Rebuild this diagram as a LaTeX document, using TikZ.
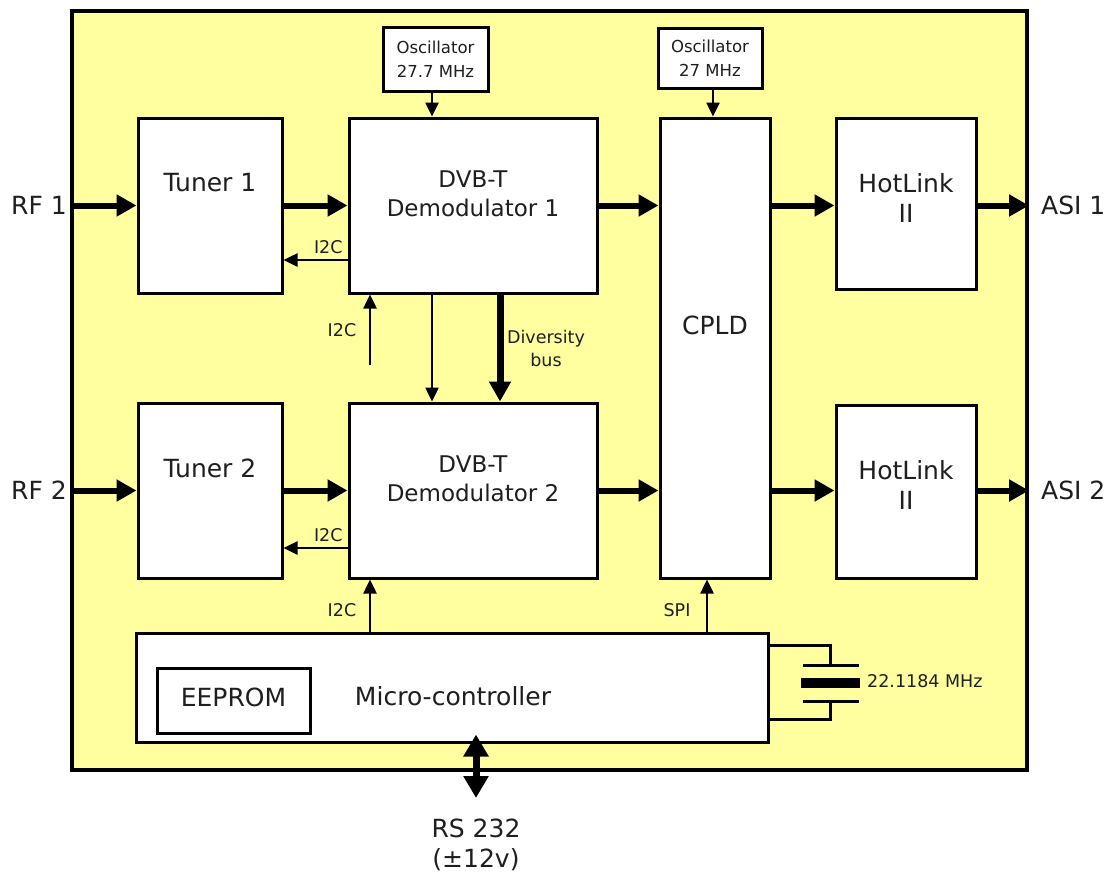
\documentclass[tikz,border=0pt]{standalone}
\usepackage{fontspec}
\setmainfont{DejaVu Sans}
\usetikzlibrary{arrows.meta}
\definecolor{bgyellow}{RGB}{255,255,160}
\definecolor{txt}{RGB}{30,30,30}
\begin{document}
\begin{tikzpicture}[x=1pt,y=-1pt,
  frame/.style={draw=black,line width=4pt,fill=bgyellow,inner sep=0pt},
  box/.style={draw=black,line width=3pt,fill=white,inner sep=0pt},
  big/.style={text=txt,font=\fontsize{25}{30}\selectfont,align=center,inner sep=0pt},
  demod/.style={text=txt,font=\fontsize{23}{29}\selectfont,align=center,inner sep=0pt},
  small/.style={text=txt,font=\fontsize{17.5}{23}\selectfont,align=center,inner sep=0pt},
  osc/.style={text=txt,font=\fontsize{16.5}{24}\selectfont,align=center,inner sep=0pt},
  thick arrow/.style={line width=6pt,-{Triangle[length=20pt,width=21pt]}},
  thin arrow/.style={line width=2.5pt,-{Triangle[length=14pt,width=13pt]}},
  wire/.style={line width=3pt}]
\useasboundingbox (0,0) rectangle (1117,884);
\fill[white] (0,0) rectangle (1117,884);
% outer frame
\node[frame,minimum width=955pt,minimum height=759pt] (frame) at (549.5,390.5) {};
% boxes
\node[box,minimum width=105pt,minimum height=64pt] (o1) at (435.5,59) {};
\node[osc] at (o1.center) {Oscillator\\27.7 MHz};
\node[box,minimum width=104pt,minimum height=60pt] (o2) at (710,58) {};
\node[osc] at (o2.center) {Oscillator\\27 MHz};
\node[box,minimum width=144pt,minimum height=175pt] (t1) at (210,205.5) {};
\node[big] at (210,183) {Tuner 1};
\node[box,minimum width=248pt,minimum height=175pt] (d1) at (473,205.5) {};
\node[demod] at (473,194) {DVB-T\\Demodulator 1};
\node[box,minimum width=110pt,minimum height=460pt] (cpld) at (715,348) {};
\node[big] at (715,325) {CPLD};
\node[box,minimum width=140pt,minimum height=171pt] (h1) at (906,203.5) {};
\node[big] at (906,198) {HotLink\\II};
\node[box,minimum width=144pt,minimum height=175pt] (t2) at (210,490.5) {};
\node[big] at (210,468) {Tuner 2};
\node[box,minimum width=248pt,minimum height=175pt] (d2) at (473,490.5) {};
\node[demod] at (473,479) {DVB-T\\Demodulator 2};
\node[box,minimum width=140pt,minimum height=173pt] (h2) at (906,491.5) {};
\node[big] at (906,485) {HotLink\\II};
\node[box,minimum width=632pt,minimum height=109pt] (m) at (452,687.5) {};
\node[big] at (453,696) {Micro-controller};
\node[box,minimum width=153pt,minimum height=65pt] (ee) at (233.5,700.5) {};
\node[big] at ([yshift=3pt]ee.center) {EEPROM};
% outside labels
\node[big,anchor=east] (rf1) at (67,205) {RF 1};
\node[big,anchor=east] (rf2) at (67,490) {RF 2};
\node[big,anchor=west] (asi1) at (1041,205) {ASI 1};
\node[big,anchor=west] (asi2) at (1041,490) {ASI 2};
\node[big] (rs) at (476,845) {RS 232\\(±12v)};
% thick data arrows, top row
\draw[thick arrow] (frame.west |- t1.east) -- (t1.east -| t1.west);
\draw[thick arrow] (t1.east) -- (d1.west);
\draw[thick arrow] (d1.east) -- (d1.east -| cpld.west);
\draw[thick arrow] (d1.east -| cpld.east) -- (d1.east -| h1.west);
\draw[thick arrow] (d1.east -| h1.east) -- (d1.east -| frame.east);
% thick data arrows, bottom row
\draw[thick arrow] (frame.west |- t2.east) -- (t2.west);
\draw[thick arrow] (t2.east) -- (d2.west);
\draw[thick arrow] (d2.east) -- (d2.east -| cpld.west);
\draw[thick arrow] (d2.east -| cpld.east) -- (d2.east -| h2.west);
\draw[thick arrow] (d2.east -| h2.east) -- (d2.east -| frame.east);
% oscillator arrows
\draw[thin arrow] ([xshift=-3.5pt]o1.south) -- ([xshift=-3.5pt]o1.south |- d1.north);
\draw[thin arrow] ([xshift=3pt]o2.south) -- ([xshift=3pt]o2.south |- cpld.north);
% I2C tuner arrows
\draw[thin arrow] ([yshift=-54.5pt]d1.west) -- ([yshift=-54.5pt]d1.west -| t1.east)
  node[small,pos=0.3,anchor=south,yshift=5pt] {I2C};
\draw[thin arrow] ([yshift=-57.5pt]d2.west) -- ([yshift=-57.5pt]d2.west -| t2.east)
  node[small,pos=0.3,anchor=south,yshift=5pt] {I2C};
% I2C from below to demod 1
\coordinate (i2a) at (370,365);
\draw[thin arrow] (i2a) -- (i2a |- d1.south);
\node[small] at (342,330) {I2C};
% demod1 to demod2
\draw[thin arrow] ([xshift=-41pt]d1.south) -- ([xshift=-41pt]d2.north);
\draw[line width=7pt,-{Triangle[length=20pt,width=21pt]}] ([xshift=27pt]d1.south) -- ([xshift=27pt]d2.north);
\node[small] at (546,348) {Diversity\\bus};
% micro to demod2 and CPLD
\draw[thin arrow] ([xshift=-103pt]d2.south |- m.north) -- ([xshift=-103pt]d2.south);
\node[small] at (342,610) {I2C};
\draw[thin arrow] ([xshift=-8pt]cpld.south |- m.north) -- ([xshift=-8pt]cpld.south);
\node[small] at (677,610) {SPI};
% RS232 double arrow
\coordinate (rsend) at (476,798);
\draw[line width=7pt,{Triangle[length=22pt,width=24pt]}-{Triangle[length=22pt,width=24pt]}]
  ([yshift=9pt]m.south -| rsend) -- (rsend);
% crystal
\draw[wire] ([yshift=42.5pt]m.east) -- (830,645) -- (830,665);
\draw[wire] (803,665) -- (859,665);
\draw[line width=10pt] (801,683) -- (860,683);
\draw[wire] (803,701) -- (859,701);
\draw[wire] (830,701) -- (830,719) -- ([yshift=-31.5pt]m.east);
\node[small,anchor=west] (xtal) at (867,681) {22.1184 MHz};
\end{tikzpicture}
\end{document}
